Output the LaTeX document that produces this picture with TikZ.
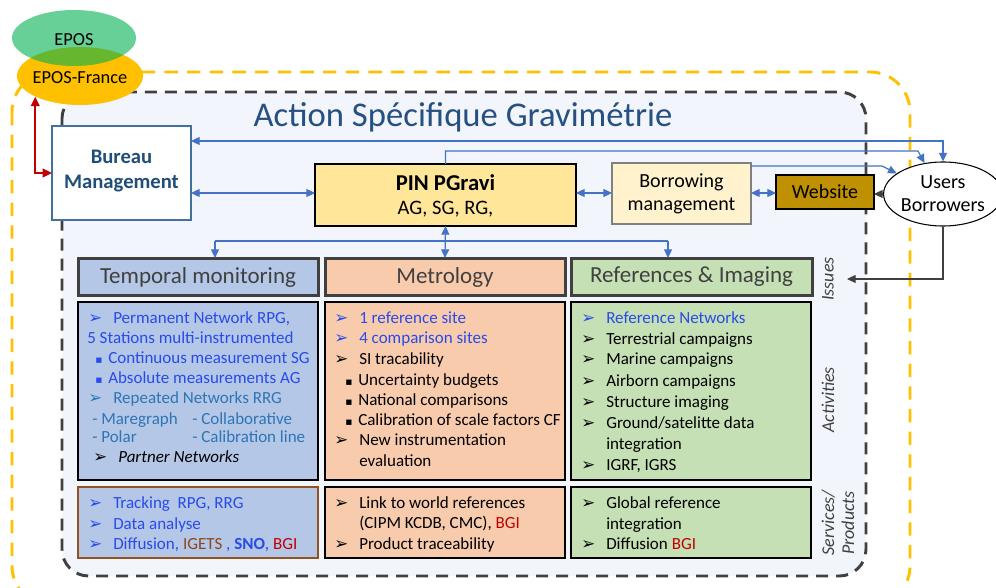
\documentclass[tikz,border=0pt]{standalone}
\usepackage{fontspec}
\setmainfont{Carlito}
\newfontfamily\dejavu{DejaVu Sans}
\usetikzlibrary{arrows.meta,calc,fit,shapes.geometric}
\definecolor{titleblue}{RGB}{38,80,130}
\definecolor{bmtext}{RGB}{31,78,121}
\definecolor{bmborder}{RGB}{65,113,156}
\definecolor{contfill}{RGB}{242,245,251}
\definecolor{pinfill}{RGB}{255,230,153}
\definecolor{borfill}{RGB}{255,242,204}
\definecolor{webfill}{RGB}{191,144,0}
\definecolor{arrblue}{RGB}{68,114,196}
\definecolor{tmfill}{RGB}{180,199,231}
\definecolor{metfill}{RGB}{248,203,173}
\definecolor{reffill}{RGB}{197,224,180}
\definecolor{dgray}{RGB}{64,64,64}
\definecolor{tblue}{RGB}{40,75,235}
\definecolor{teal}{RGB}{46,117,182}
\definecolor{dred}{RGB}{192,0,0}
\definecolor{brown}{RGB}{140,70,25}
\definecolor{epfyellow}{RGB}{255,192,0}
\definecolor{eposgreen}{RGB}{0,176,80}
\definecolor{svborder}{RGB}{150,80,30}
\newcommand\myarr[1]{\makebox[18.75pt][l]{\color{#1}\dejavu\fontsize{12.5}{12}\selectfont ➢}}
\newcommand\mysq{\makebox[9.75pt][l]{\dejavu\fontsize{8}{8}\selectfont ▪}}
\begin{document}
\begin{tikzpicture}[x=0.75pt,y=-0.75pt,
  box/.style={inner sep=0pt,outer sep=0pt},
  hdr/.style={box,draw=dgray,line width=2.25pt},
  hdrt/.style={inner sep=0pt,text=dgray,font=\fontsize{17.25}{20}\selectfont},
  actbox/.style={box,draw=black,line width=0.8pt},
  txt/.style={anchor=base west,inner sep=0pt,font=\fontsize{12.75}{15}\selectfont},
  side/.style={rotate=90,inner sep=0pt,text=dgray,align=center,font=\itshape\fontsize{13.5}{15}\selectfont},
  barr/.style={draw=arrblue,line width=0.9pt,arrows={-Triangle[length=6.5pt,width=6pt]}},
  bbarr/.style={draw=arrblue,line width=0.9pt,arrows={Triangle[length=6.5pt,width=6pt]-Triangle[length=6.5pt,width=6pt]}},
  karr/.style={draw=dgray,line width=0.8pt,arrows={-Triangle[length=6.5pt,width=6pt]}}
]
\useasboundingbox (0,0) rectangle (996,588);
\clip (0,0) rectangle (996,588);
% outer containers
\draw[epfyellow,line width=2.2pt,dash pattern=on 10pt off 7pt,rounded corners=30pt] (12,72) rectangle (910,606);
\draw[dgray,fill=contfill,line width=2.2pt,dash pattern=on 9pt off 6pt,rounded corners=20pt] (62,92) rectangle (866,576);
\node (title) [text=titleblue,font=\fontsize{26}{30}\selectfont] at (463,117) {Action Spécifique Gravimétrie};
% EPOS ellipses
\node (epf) [ellipse,fill=epfyellow,minimum width=126*0.75pt,minimum height=58*0.75pt,inner sep=0pt] at (80,76) {};
\node (epos) [ellipse,fill=eposgreen,fill opacity=0.6,minimum width=124*0.75pt,minimum height=56*0.75pt,inner sep=0pt] at (74,38) {};
\node (epost) [font=\fontsize{13.8}{15}\selectfont,inner sep=0pt] at (74,40) {EPOS};
\node (epft) [font=\fontsize{13.8}{15}\selectfont,inner sep=0pt] at (80,78) {EPOS-France};
% top row boxes
\node (bm) [box,draw=bmborder,fill=white,line width=0.8pt,fit={(52,126)(191,220)}] {};
\node (bmt) [inner sep=0pt,align=center,text=bmtext,font=\bfseries\fontsize{15.5}{18.75}\selectfont] at (121.5,171) {Bureau\\Management};
\node (pin) [box,draw=black,fill=pinfill,line width=0.8pt,fit={(315,164)(576,226)}] {};
\node (pint) [inner sep=0pt,align=center,font=\fontsize{15.4}{18}\selectfont] at (445.5,196) {{\bfseries\fontsize{17}{18}\selectfont PIN PGravi}\\AG, SG, RG,};
\node (bo) [box,draw=gray,fill=borfill,line width=0.8pt,fit={(612,163)(751,224)}] {};
\node (bot) [inner sep=0pt,align=center,font=\fontsize{15}{17.25}\selectfont] at (681.5,194) {Borrowing\\management};
\node (ws) [box,draw=black,fill=webfill,line width=0.8pt,fit={(776,175)(874,209)}] {};
\node (wst) [inner sep=0pt,font=\fontsize{15}{17}\selectfont] at (825,192) {Website};
\node (ub) [ellipse,draw=black,fill=white,line width=0.8pt,minimum width=106*0.75pt,minimum height=64*0.75pt,inner sep=0pt,align=center,font=\fontsize{15}{17.25}\selectfont] at (943,194) {Users\\Borrowers};
% headers
\node (tmh) [hdr,fill=tmfill,fit={(78,258)(318,295)}] {};
\node (meth) [hdr,fill=metfill,fit={(325,258)(565,295)}] {};
\node (refh) [hdr,fill=reffill,fit={(571,258)(812,295)}] {};
\node (tmht) [hdrt] at (198,277) {Temporal monitoring};
\node (metht) [hdrt] at (445,277) {Metrology};
\node (refht) [hdrt] at (691.5,277) {References \& Imaging};
% activity and service boxes
\node (tma) [actbox,fill=tmfill,fit={(78,302)(318,480)}] {};
\node (meta) [actbox,fill=metfill,fit={(325,302)(565,480)}] {};
\node (refa) [actbox,fill=reffill,fit={(571,302)(811,480)}] {};
\node (tms) [actbox,draw=svborder,fill=tmfill,fit={(78,487)(318,558)}] {};
\node (mets) [actbox,fill=metfill,fit={(325,487)(565,558)}] {};
\node (refs) [actbox,fill=reffill,fit={(571,487)(811,558)}] {};
% side labels
\node (iss) [side] at (828,279) {Issues};
\node (act) [side] at (828,400) {Activities};
\node (svp) [side] at (838,523) {Services/\\Products};
% connectors
\draw[dred,line width=1.4pt,arrows={Triangle[length=7pt,width=6.5pt]-Triangle[length=7pt,width=6.5pt]}] (bm.west) -| (epf.south west);
\draw[bbarr] (bm.east |- 0,141) -| (ub.north);
\draw[barr] (pin.north) |- (918,151) -- (ub.121);
\draw[barr] ($(bo.north east)+(0,3)$) -- (882,166) -- (ub.156);
\draw[bbarr] (bm.east |- 0,193) -- (pin.west |- 0,193);
\draw[bbarr] (pin.east |- 0,193) -- (bo.west |- 0,193);
\draw[bbarr] (bo.east |- 0,193) -- (ws.west |- 0,193);
\draw[karr] (ub.west) -- (ws.east |- ub.west);
\coordinate (isq) at (847,279);
\draw[karr] (ub.south) |- (isq);
\draw[bbarr] (pin.south) -- (meth.north);
\coordinate (jl) at (215,241);
\coordinate (jr) at (668,241);
\draw[arrblue,line width=0.9pt] (jl) -- (jr);
\draw[barr] (jl) -- (jl |- tmh.north);
\draw[barr] (jr) -- (jr |- refh.north);
% Temporal monitoring text
\node (t1) [txt,text=tblue] at (88,323) {\myarr{tblue}Permanent Network RPG,};
\node (t2) [txt,text=tblue] at (87,343) {5 Stations multi-instrumented};
\node (t3) [txt,text=tblue] at (95,363) {\mysq Continuous measurement SG};
\node (t4) [txt,text=tblue] at (95,383) {\mysq Absolute measurements AG};
\node (t5) [txt,text=teal] at (88,403) {\myarr{teal}Repeated Networks RRG};
\node (t6) [txt,text=teal] at (92,424) {- Maregraph};
\node (t6b) [txt,text=teal] at (192,424) {- Collaborative};
\node (t7) [txt,text=teal] at (92,442) {- Polar};
\node (t7b) [txt,text=teal] at (192,442) {- Calibration line};
\node (t8) [txt] at (93,462) {\myarr{black}\textit{Partner Networks}};
\node (ts1) [txt,text=tblue] at (88,508) {\myarr{tblue}Tracking\ \ RPG, RRG};
\node (ts2) [txt,text=tblue] at (88,529) {\myarr{tblue}Data analyse};
\node (ts3) [txt,text=tblue] at (88,549) {\myarr{tblue}Diffusion, {\color{brown}IGETS} , \textbf{SNO}, {\color{dred}BGI}};
% Metrology text
\node (m1) [txt,text=tblue] at (334,323) {\myarr{tblue}1 reference site};
\node (m2) [txt,text=tblue] at (334,343) {\myarr{tblue}4 comparison sites};
\node (m3) [txt] at (334,364) {\myarr{black}SI tracability};
\node (m4) [txt] at (345,385) {\mysq Uncertainty budgets};
\node (m5) [txt] at (345,405) {\mysq National comparisons};
\node (m6) [txt] at (345,425) {\mysq Calibration of scale factors CF};
\node (m7) [txt] at (334,445) {\myarr{black}New instrumentation};
\node (m8) [txt] at (359,466) {evaluation};
\node (ms1) [txt] at (334,508) {\myarr{black}Link to world references};
\node (ms2) [txt] at (359,528) {(CIPM KCDB, CMC), {\color{dred}BGI}};
\node (ms3) [txt] at (334,549) {\myarr{black}Product traceability};
% References text
\node (r1) [txt,text=tblue] at (581,323) {\myarr{tblue}Reference Networks};
\node (r2) [txt] at (581,344) {\myarr{black}Terrestrial campaigns};
\node (r3) [txt] at (581,364) {\myarr{black}Marine campaigns};
\node (r4) [txt] at (581,386) {\myarr{black}Airborn campaigns};
\node (r5) [txt] at (581,407) {\myarr{black}Structure imaging};
\node (r6) [txt] at (581,428) {\myarr{black}Ground/satelitte data};
\node (r7) [txt] at (606,449) {integration};
\node (r8) [txt] at (581,470) {\myarr{black}IGRF, IGRS};
\node (rs1) [txt] at (581,508) {\myarr{black}Global reference};
\node (rs2) [txt] at (606,529) {integration};
\node (rs3) [txt] at (581,549) {\myarr{black}Diffusion {\color{dred}BGI}};
\end{tikzpicture}
\end{document}
